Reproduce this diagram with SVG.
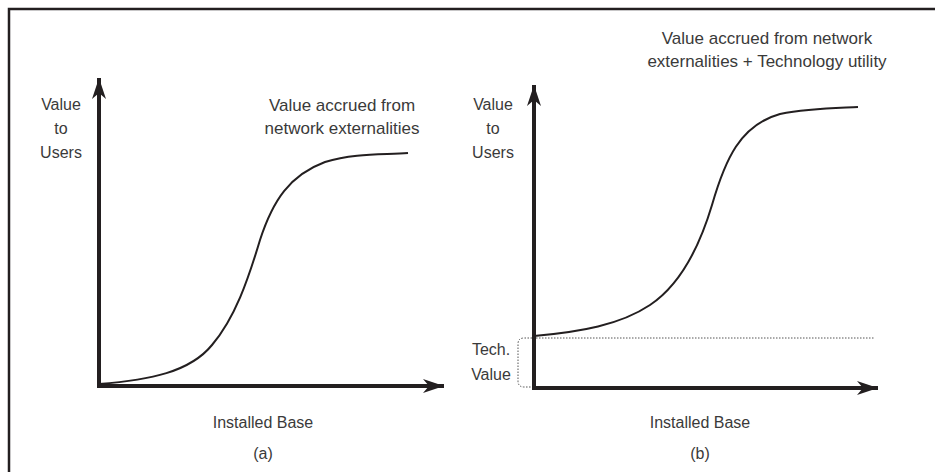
<svg xmlns="http://www.w3.org/2000/svg" width="935" height="472" viewBox="0 0 935 472">
<style>
  text { font-family: "Liberation Sans", Arial, sans-serif; font-size: 16px; fill: #3a3a3a; text-anchor: middle; }
  .big { font-size: 17px; }
  .axis { stroke: #231f20; stroke-width: 4; fill: none; }
  .curve { stroke: #231f20; stroke-width: 2; fill: none; }
  .dot { stroke: #555; stroke-width: 1; stroke-dasharray: 1.5 1.5; fill: none; }
  .frame { stroke: #231f20; stroke-width: 2.5; fill: none; }
</style>
<defs>
  <marker id="ah" markerUnits="userSpaceOnUse" markerWidth="24" markerHeight="16" viewBox="-22 -8 24 16" refX="0" refY="0" orient="auto">
    <path d="M0,0 L-21,-7 L-15,0 L-21,7 Z" fill="#231f20"/>
  </marker>
</defs>
<rect width="935" height="472" fill="#fff"/>
<g id="frame">
  <path class="frame" d="M9,472 V9 H935"/>
</g>
<g id="chart-a">
  <g id="axes-a">
    <path class="axis" d="M99,387 V78" marker-end="url(#ah)"/>
    <path class="axis" d="M97,386 H444" marker-end="url(#ah)"/>
  </g>
  <path id="curve-a" class="curve" d="M99,384 C150,380 190,372 212,345 C235,318 248,280 260,240 C273,200 290,175 325,162 C355,153 385,155 408,153"/>
  <g id="label-a-y">
    <text x="61" y="110">Value</text>
    <text x="61" y="134">to</text>
    <text x="61" y="158">Users</text>
  </g>
  <g id="label-a-curve">
    <text class="big" x="342" y="111">Value accrued from</text>
    <text class="big" x="342" y="134">network externalities</text>
  </g>
  <text x="263" y="428">Installed Base</text>
  <text x="263" y="459">(a)</text>
</g>
<g id="chart-b">
  <g id="axes-b">
    <path class="axis" d="M534,389 V85" marker-end="url(#ah)"/>
    <path class="axis" d="M532,388 H878" marker-end="url(#ah)"/>
  </g>
  <path id="tech-line" class="dot" d="M536,338 H875"/>
  <path id="tech-bracket" class="dot" d="M532,338 H524 Q518,338 518,344 V381 Q518,387 524,387 H532"/>
  <path id="curve-b" class="curve" d="M534,336 C580,332 620,325 650,305 C680,285 700,245 712,205 C725,160 740,125 780,114 C810,108 840,108 858,107"/>
  <g id="label-b-y">
    <text x="493" y="110">Value</text>
    <text x="493" y="134">to</text>
    <text x="493" y="158">Users</text>
  </g>
  <g id="label-b-tech">
    <text x="491" y="355">Tech.</text>
    <text x="491" y="380">Value</text>
  </g>
  <g id="label-b-curve">
    <text class="big" x="767" y="44">Value accrued from network</text>
    <text class="big" x="767" y="67">externalities + Technology utility</text>
  </g>
  <text x="700" y="428">Installed Base</text>
  <text x="700" y="459">(b)</text>
</g>
</svg>
